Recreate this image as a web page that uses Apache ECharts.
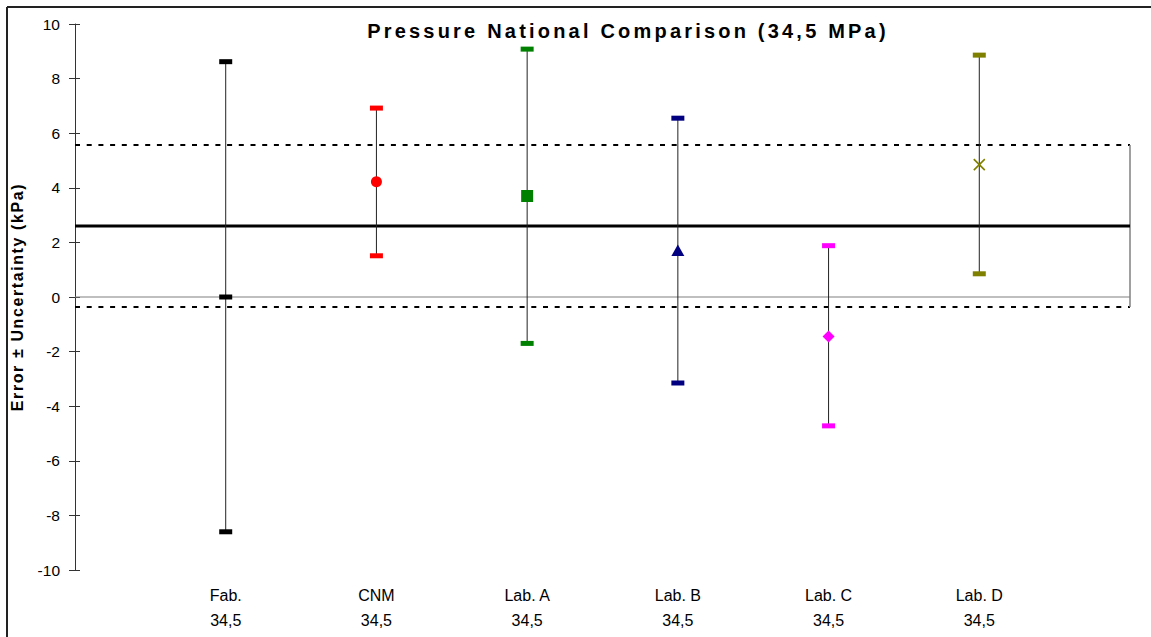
<!DOCTYPE html>
<html>
<head>
<meta charset="utf-8">
<script src="https://cdn.jsdelivr.net/npm/echarts@6/dist/echarts.min.js"></script>
<style>
  html, body { margin: 0; padding: 0; background: #fff; }
  #chart { width: 1151px; height: 637px; }
</style>
</head>
<body>
<div id="chart"></div>
<script>
const titleText = "Pressure National Comparison (34,5 MPa)";
const yName = "Error ± Uncertainty (kPa)";
const labs = ["Fab.", "CNM", "Lab. A", "Lab. B", "Lab. C", "Lab. D"];
const pressureLabel = "34,5";
const errors = [0, 4.22, 3.7, 1.7, -1.45, 4.85];
const upper = [8.62, 6.92, 9.08, 6.55, 1.88, 8.86];
const lower = [-8.6, 1.51, -1.7, -3.15, -4.72, 0.85];
const yTicks = { min: -10, max: 10, interval: 2 };
const refMean = 2.6;
const refUpper = 5.57;
const refLower = -0.37;

const labColors = ["#000000", "#ff0000", "#008000", "#000080", "#ff00ff", "#808000"];
const markerShapes = ["dash", "circle", "square", "triangle", "diamond", "cross"];

const chartDom = document.getElementById("chart");
const chart = echarts.init(chartDom, null, { renderer: "svg" });

function marker(shape, x, y, color) {
  switch (shape) {
    case "dash":
      return { type: "rect", shape: { x: x - 6.5, y: y - 2.5, width: 13, height: 5 }, style: { fill: color } };
    case "circle":
      return { type: "circle", shape: { cx: x, cy: y, r: 5.5 }, style: { fill: color } };
    case "square":
      return { type: "rect", shape: { x: x - 6, y: y - 6, width: 12, height: 12 }, style: { fill: color } };
    case "triangle":
      return { type: "polygon", shape: { points: [[x, y - 6], [x + 6.5, y + 5.5], [x - 6.5, y + 5.5]] }, style: { fill: color } };
    case "diamond":
      return { type: "polygon", shape: { points: [[x, y - 6], [x + 6, y], [x, y + 6], [x - 6, y]] }, style: { fill: color } };
    default:
      return {
        type: "group",
        children: [
          { type: "line", shape: { x1: x - 5.5, y1: y - 5.5, x2: x + 5.5, y2: y + 5.5 }, style: { stroke: color, lineWidth: 1.6 } },
          { type: "line", shape: { x1: x - 5.5, y1: y + 5.5, x2: x + 5.5, y2: y - 5.5 }, style: { stroke: color, lineWidth: 1.6 } }
        ]
      };
  }
}

function renderErrorBar(params, api) {
  const i = params.dataIndex;
  const x = api.value(0);
  const mid = api.coord([x, api.value(1)]);
  const top = api.coord([x, api.value(2)]);
  const bot = api.coord([x, api.value(3)]);
  const color = labColors[i];
  return {
    type: "group",
    children: [
      { type: "line", shape: { x1: top[0], y1: top[1], x2: bot[0], y2: bot[1] }, style: { stroke: "#222", lineWidth: 1 } },
      { type: "rect", shape: { x: top[0] - 6.5, y: top[1] - 2.5, width: 13, height: 5 }, style: { fill: color } },
      { type: "rect", shape: { x: bot[0] - 6.5, y: bot[1] - 2.5, width: 13, height: 5 }, style: { fill: color } },
      marker(markerShapes[i], mid[0], mid[1], color)
    ]
  };
}

const xMax = labs.length + 1;
const hLine = (y) => [[0, y], [xMax, y]];

chart.setOption({
  animation: false,
  backgroundColor: "#fff",
  textStyle: { fontFamily: "Arial, 'Liberation Sans', sans-serif" },
  grid: { left: 75, right: 21, top: 24, bottom: 67 },
  graphic: [
    { type: "line", shape: { x1: 7, y1: 7, x2: 7, y2: 637 }, style: { stroke: "#222", lineWidth: 2 } },
    { type: "line", shape: { x1: 7, y1: 7, x2: 1151, y2: 7 }, style: { stroke: "#222", lineWidth: 2 } },
    {
      type: "text", x: 628, y: 31,
      style: {
        text: titleText, fill: "#000", align: "center", verticalAlign: "middle",
        font: "bold 20px Arial, 'Liberation Sans', sans-serif"
      }
    }
  ],
  xAxis: {
    type: "value", min: 0, max: xMax, interval: 1,
    axisLine: { show: false }, axisTick: { show: false }, splitLine: { show: false },
    axisLabel: {
      showMinLabel: true, showMaxLabel: true,
      color: "#000", fontSize: 16, lineHeight: 25, margin: 13,
      formatter: (v) => (labs[v - 1] ? labs[v - 1] + "\n" + pressureLabel : "")
    }
  },
  yAxis: [
    {
      type: "value", min: yTicks.min, max: yTicks.max, interval: yTicks.interval,
      name: yName, nameLocation: "middle", nameGap: 50, nameRotate: 90,
      nameTextStyle: { color: "#000", fontSize: 16, fontWeight: "bold" },
      axisLine: { show: true, lineStyle: { color: "#333", width: 1 } },
      axisTick: { show: true, length: 6, lineStyle: { color: "#333" } },
      splitLine: { show: false },
      axisLabel: { color: "#000", fontSize: 15.5, margin: 15 }
    },
    {
      type: "value", min: yTicks.min, max: yTicks.max, interval: yTicks.interval, position: "left",
      axisLine: { show: false }, axisLabel: { show: false }, splitLine: { show: false },
      axisTick: { show: true, inside: true, length: 5, lineStyle: { color: "#333" } }
    }
  ],
  series: [
    { type: "line", data: hLine(0), symbol: "none", lineStyle: { color: "#808080", width: 1.2 }, silent: true },
    { type: "line", data: hLine(refUpper), symbol: "none", lineStyle: { color: "#000", width: 2, type: [5, 6.7] }, silent: true },
    { type: "line", data: hLine(refLower), symbol: "none", lineStyle: { color: "#000", width: 2, type: [5, 6.7] }, silent: true },
    { type: "line", data: [[xMax, refUpper], [xMax, refLower]], symbol: "none", lineStyle: { color: "#808080", width: 1.5 }, silent: true },
    { type: "line", data: hLine(refMean), symbol: "none", lineStyle: { color: "#000", width: 3 }, silent: true },
    {
      type: "custom",
      renderItem: renderErrorBar,
      data: labs.map((_, i) => [i + 1, errors[i], upper[i], lower[i]]),
      encode: { x: 0, y: [1, 2, 3] },
      z: 5
    }
  ]
});

function spaceText() {
  chartDom.querySelectorAll("svg text").forEach((t) => {
    if (t.textContent === titleText) t.setAttribute("letter-spacing", "3.2");
    if (t.textContent === yName) t.setAttribute("letter-spacing", "1.6");
  });
}
spaceText();
chart.on("finished", spaceText);
</script>
</body>
</html>
